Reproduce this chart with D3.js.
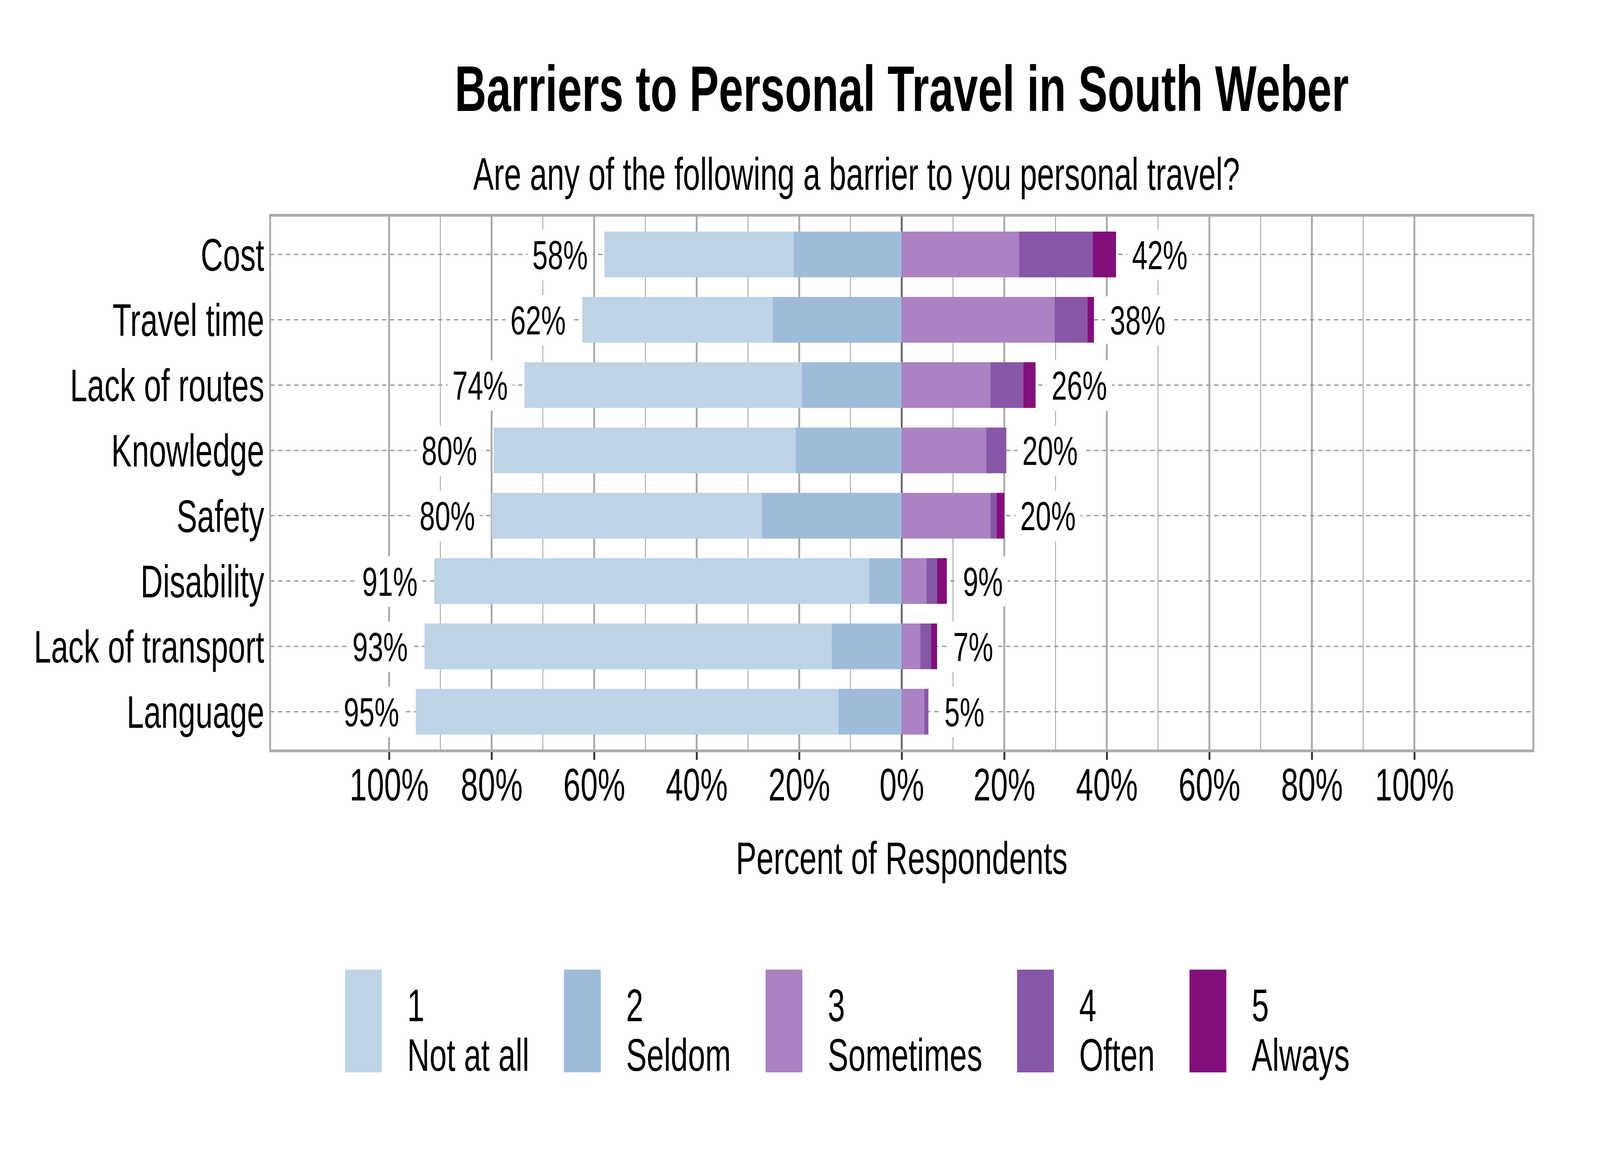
<!DOCTYPE html>
<html>
<head>
<meta charset="utf-8">
<script src="https://cdn.jsdelivr.net/npm/d3@7"></script>
<style>
  html, body { margin: 0; padding: 0; background: #fff; overflow: hidden; }
  #chart { display: block; width: 100vw; height: 100vh; }
  text { font-family: "Liberation Sans", Arial, sans-serif; fill: #000; }
</style>
</head>
<body>
<svg id="chart"></svg>
<script>
// Barriers to personal travel, diverging stacked bars (percent of respondents)

const categories = ["Cost", "Travel time", "Lack of routes", "Knowledge", "Safety",
                    "Disability", "Lack of transport", "Language"];

const levelCodes = ["1", "2", "3", "4", "5"];
const levelNames = ["Not at all", "Seldom", "Sometimes", "Often", "Always"];
const levelColors = ["#BFD3E6", "#9EBCDA", "#AB82C2", "#8856A7", "#810F7C"];

// percent per level, same order as categories
const notAtAll  = [36.9, 37.1, 54.1, 58.9, 52.7, 84.8, 79.4, 82.4];
const seldom    = [21.1, 25.2, 19.5, 20.7, 27.3,  6.4, 13.7, 12.4];
const sometimes = [22.9, 29.8, 17.3, 16.5, 17.3,  4.8,  3.6,  4.4];
const often     = [14.4,  6.4,  6.4,  3.9,  1.2,  2.1,  2.1,  0.8];
const always    = [ 4.5,  1.3,  2.4,  0.0,  1.5,  1.9,  1.2,  0.0];

const xTicks = [-100, -80, -60, -40, -20, 0, 20, 40, 60, 80, 100];
const xMinor = [-90, -70, -50, -30, -10, 10, 30, 50, 70, 90];

const titleText = "Barriers to Personal Travel in South Weber";
const subtitleText = "Are any of the following a barrier to you personal travel?";
const xTitle = "Percent of Respondents";

// ---- layout: drawn in a 6000x3000 user space, stretched to fill the window
const W = 6000, H = 3000;
const panel = {left: 1013, right: 5750, top: 551, bottom: 1922};
const fs = 116;        // axis text
const labelFs = 104;   // percent labels

const svg = d3.select("#chart")
  .attr("viewBox", `0 0 ${W} ${H}`)
  .attr("preserveAspectRatio", "none");
svg.append("rect").attr("width", W).attr("height", H).attr("fill", "#fff");

const x = d3.scaleLinear().domain([-123.2, 123.2]).range([panel.left, panel.right]);
const y = d3.scalePoint().domain(categories).range([panel.top, panel.bottom]).padding(0.6);
const barH = y.step() * 0.7;

// build stacked segments: negatives go left from 0, positives right
const levels = [notAtAll, seldom, sometimes, often, always];
const rows = categories.map((c, i) => {
  const neg = [levels[0][i], levels[1][i]];
  const pos = [levels[2][i], levels[3][i], levels[4][i]];
  const segs = [];
  // Seldom sits next to zero, Not at all beyond it
  segs.push({cat: c, lvl: 1, x0: -neg[1], x1: 0});
  segs.push({cat: c, lvl: 0, x0: -neg[1] - neg[0], x1: -neg[1]});
  let acc = 0;
  pos.forEach((v, k) => { segs.push({cat: c, lvl: k + 2, x0: acc, x1: acc + v}); acc += v; });
  return {cat: c, segs: segs, left: neg[0] + neg[1], right: acc};
});

// ---- grid
const grid = svg.append("g");
grid.selectAll("line.minor").data(xMinor).join("line")
  .attr("x1", d => x(d)).attr("x2", d => x(d))
  .attr("y1", panel.top).attr("y2", panel.bottom)
  .attr("stroke", "#AAAAAA").attr("stroke-width", 3.5);
grid.selectAll("line.major").data(xTicks.filter(d => d !== 0)).join("line")
  .attr("x1", d => x(d)).attr("x2", d => x(d))
  .attr("y1", panel.top).attr("y2", panel.bottom)
  .attr("stroke", "#AAAAAA").attr("stroke-width", 7);
grid.selectAll("line.cat").data(categories).join("line")
  .attr("x1", panel.left).attr("x2", panel.right)
  .attr("y1", d => y(d)).attr("y2", d => y(d))
  .attr("stroke", "#9A9A9A").attr("stroke-width", 3.5)
  .attr("stroke-dasharray", "16,14");
grid.append("line")
  .attr("x1", x(0)).attr("x2", x(0))
  .attr("y1", panel.top).attr("y2", panel.bottom)
  .attr("stroke", "#666666").attr("stroke-width", 7);

// ---- bars
svg.append("g").selectAll("rect")
  .data(rows.flatMap(r => r.segs).filter(s => s.x1 > s.x0))
  .join("rect")
    .attr("x", d => x(d.x0))
    .attr("width", d => x(d.x1) - x(d.x0))
    .attr("y", d => y(d.cat) - barH / 2)
    .attr("height", barH)
    .attr("fill", d => levelColors[d.lvl]);

// ---- percent labels with white rounded boxes
function addLabel(g, tx, ty, str, anchor) {
  const grp = g.append("g");
  const t = grp.append("text")
    .attr("x", tx).attr("y", ty + labelFs * 0.358)
    .attr("text-anchor", anchor)
    .style("font-size", labelFs + "px")
    .text(str);
  const bb = t.node().getBBox();
  grp.insert("rect", "text")
    .attr("x", bb.x - 18).attr("y", bb.y - 6)
    .attr("width", bb.width + 36).attr("height", bb.height + 12)
    .attr("rx", 14).attr("fill", "#fff");
}
const labG = svg.append("g");
rows.forEach(r => {
  addLabel(labG, x(-r.left) - 62, y(r.cat), Math.round(r.left) + "%", "end");
  addLabel(labG, x(r.right) + 60, y(r.cat), Math.round(r.right) + "%", "start");
});

// ---- panel border
svg.append("rect")
  .attr("x", panel.left).attr("y", panel.top)
  .attr("width", panel.right - panel.left).attr("height", panel.bottom - panel.top)
  .attr("fill", "none").attr("stroke", "#AAAAAA").attr("stroke-width", 7);

// ---- axes
const xAxis = svg.append("g")
  .attr("transform", `translate(0,${panel.bottom + 3})`)
  .call(d3.axisBottom(x).tickValues(xTicks).tickSize(20).tickPadding(22)
    .tickFormat(d => Math.abs(d) + "%"));
xAxis.select(".domain").remove();
xAxis.selectAll(".tick line").attr("stroke", "#333").attr("stroke-width", 7);
xAxis.selectAll(".tick text").style("font-size", fs + "px")
  .attr("font-family", "Liberation Sans, Arial, sans-serif").attr("fill", "#000");

svg.append("g").selectAll("text").data(categories).join("text")
  .attr("x", panel.left - 22)
  .attr("y", d => y(d) + fs * 0.358)
  .attr("text-anchor", "end")
  .style("font-size", fs + "px")
  .text(d => d);

// ---- titles
svg.append("text")
  .attr("x", (panel.left + panel.right) / 2).attr("y", 284)
  .attr("text-anchor", "middle")
  .style("font-size", "165px").style("font-weight", "bold")
  .text(titleText);
svg.append("text")
  .attr("x", 3212).attr("y", 486)
  .attr("text-anchor", "middle")
  .style("font-size", fs + "px")
  .text(subtitleText);
svg.append("text")
  .attr("x", (panel.left + panel.right) / 2).attr("y", 2237)
  .attr("text-anchor", "middle")
  .style("font-size", fs + "px")
  .text(xTitle);

// ---- legend
const legend = svg.append("g");
let lx = 1294;
levelCodes.forEach((code, i) => {
  legend.append("rect")
    .attr("x", lx).attr("y", 2482)
    .attr("width", 138).attr("height", 263)
    .attr("fill", levelColors[i]);
  const t = legend.append("text")
    .attr("x", lx + 233).attr("y", 2614)
    .style("font-size", fs + "px");
  t.append("tspan").attr("x", lx + 233).text(code);
  t.append("tspan").attr("x", lx + 233).attr("dy", 127).text(levelNames[i]);
  lx += 233 + t.node().getBBox().width + 130;
});
</script>
</body>
</html>
